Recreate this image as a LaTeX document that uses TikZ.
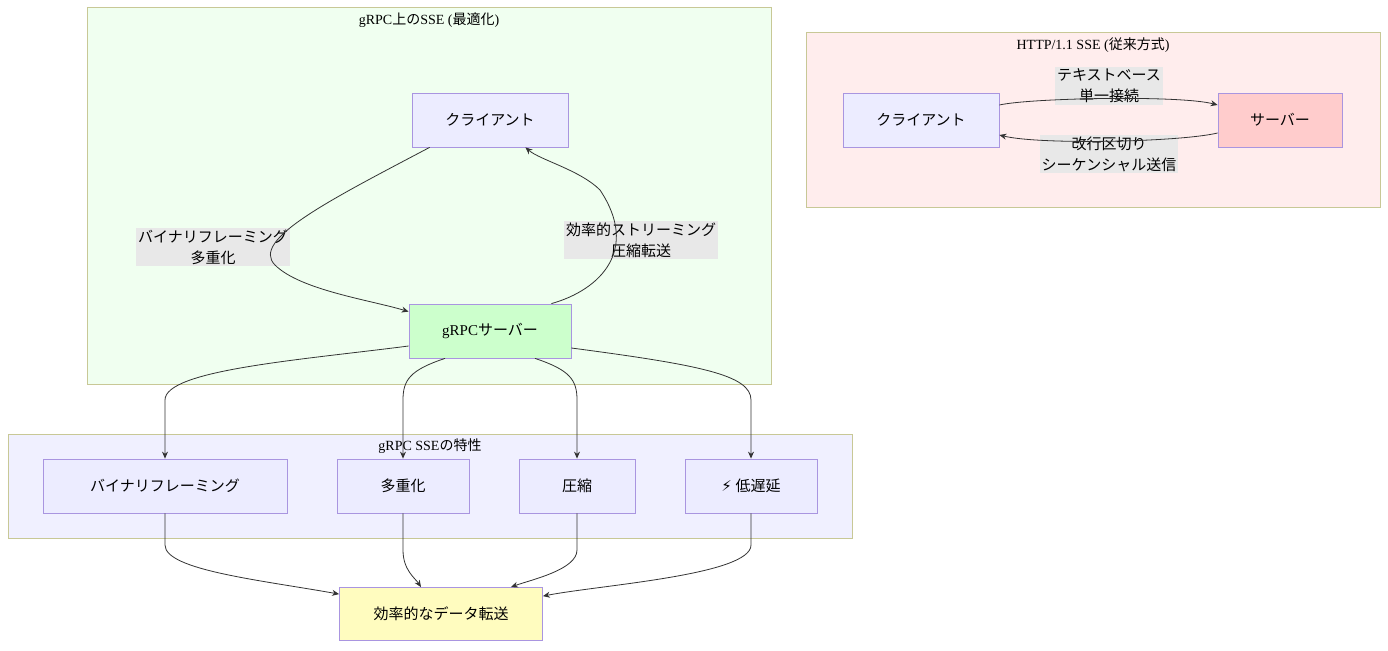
\documentclass[tikz,border=0pt]{standalone}
\usepackage{fontspec}
\setmainfont{Liberation Serif}
\newfontfamily\cjk{Noto Sans CJK JP}
\newfontfamily\emo{DejaVu Sans}
\newcommand{\J}[1]{{\cjk #1}}
\usetikzlibrary{arrows.meta}
\definecolor{nodefill}{HTML}{ECECFF}
\definecolor{nodeline}{HTML}{A995E0}
\definecolor{clline}{HTML}{C8C896}
\tikzset{
 box/.style={draw=nodeline,fill=nodefill,line width=0.8pt,minimum height=54pt,inner sep=0pt,font=\fontsize{15}{18}\selectfont},
 lbl/.style={fill=black!9,inner sep=2pt,align=center,font=\cjk\fontsize{15}{21}\selectfont},
 cl/.style={draw=clline,line width=1pt},
 title/.style={font=\fontsize{14}{17}\selectfont},
 e/.style={draw=black!80,line width=0.8pt,-{Stealth[length=7pt,width=6pt]}}
}
\begin{document}
\begin{tikzpicture}[x=1pt,y=-1pt]
\useasboundingbox (0,0) rectangle (1388,650);
\fill[white] (0,0) rectangle (1388,650);
\filldraw[cl,fill=green!6] (87,8) rectangle (771,384);
\node[title] (t1) at (429,20) {gRPC\J{上の}SSE (\J{最適化})};
\filldraw[cl,fill=red!7] (806,33) rectangle (1380,207);
\node[title] (t2) at (1093,45) {HTTP/1.1 SSE (\J{従来方式})};
\filldraw[cl,fill=blue!6] (8,434) rectangle (852,538);
\node[title] (t3) at (430,446) {gRPC SSE\J{の特性}};

\node[box,minimum width=156pt] (c1) at (490,120) {\J{クライアント}};
\node[box,minimum width=162pt,fill=green!20] (gs) at (490,331) {gRPC\J{サーバー}};
\node[box,minimum width=156pt] (c2) at (921,120) {\J{クライアント}};
\node[box,minimum width=124pt,fill=red!20] (s2) at (1280,120) {\J{サーバー}};
\node[box,minimum width=244pt] (f1) at (165,486) {\J{バイナリフレーミング}};
\node[box,minimum width=132pt] (f2) at (403,486) {\J{多重化}};
\node[box,minimum width=116pt] (f3) at (577,486) {\J{圧縮}};
\node[box,minimum width=132pt] (f4) at (751,486) {{\emo ⚡} \J{低遅延}};
\node[box,minimum width=203pt,minimum height=53pt,fill=yellow!25] (ef) at (441,614) {\J{効率的なデータ転送}};

\node[lbl] (l1) at (213,247) {バイナリフレーミング\\多重化};
\node[lbl] (l2) at (641,240) {効率的ストリーミング\\圧縮転送};
\node[lbl] (l3) at (1109,86) {テキストベース\\単一接続};
\node[lbl] (l4) at (1109,154) {改行区切り\\シーケンシャル送信};

\draw[e] ([xshift=18pt]c1.south west) .. controls (330,200) and (250,240) .. (275,265) .. controls (300,290) and (370,300) .. ([yshift=-8pt]gs.north west);
\draw[e] ([xshift=-20pt]gs.north east) .. controls (600,290) and (640,250) .. (600,190) .. controls (580,170) and (540,160) .. ([xshift=-43pt]c1.south east);
\draw[e] ([yshift=15pt]c2.east) .. controls (1030,98) and (1180,95) .. ([yshift=15pt]s2.west);
\draw[e] ([yshift=-13pt]s2.west) .. controls (1180,142) and (1040,145) .. ([yshift=-15pt]c2.east);

\draw[e] ([yshift=-15pt]gs.west) .. controls (300,360) and (165,370) .. (165,400) -- (f1.north);
\draw[e] ([xshift=-45pt]gs.south) .. controls (410,370) and (403,380) .. (403,400) -- (f2.north);
\draw[e] ([xshift=45pt]gs.south) .. controls (570,370) and (577,380) .. (577,400) -- (f3.north);
\draw[e] ([yshift=-17pt]gs.east) .. controls (700,365) and (751,375) .. (751,400) -- (f4.north);

\draw[e] (f1.south) -- (165,545) .. controls (165,570) and (260,580) .. ([yshift=-7pt]ef.north west);
\draw[e] (f2.south) -- (403,550) .. controls (403,570) and (415,578) .. ([xshift=-20pt]ef.north);
\draw[e] (f3.south) -- (577,550) .. controls (577,570) and (530,580) .. ([xshift=70pt]ef.north);
\draw[e] (f4.south) -- (751,545) .. controls (751,575) and (600,585) .. ([yshift=-9pt]ef.north east);
\end{tikzpicture}
\end{document}
